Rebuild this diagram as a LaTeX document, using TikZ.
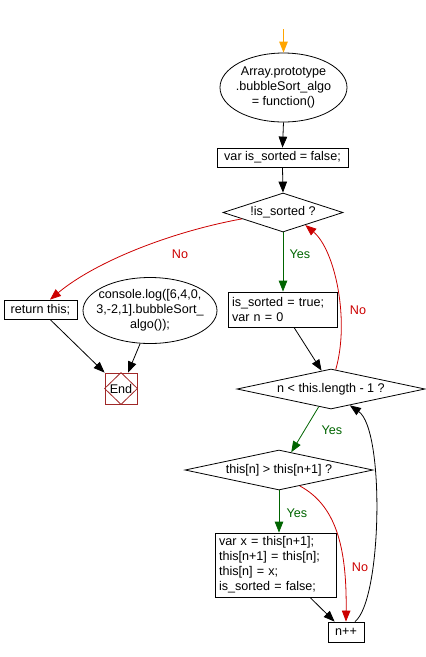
\documentclass[tikz,border=0pt]{standalone}
\usepackage{fontspec}
\setmainfont{Liberation Sans}
\usetikzlibrary{shapes.geometric,arrows.meta,calc}
\definecolor{ygreen}{RGB}{0,100,0}
\definecolor{nred}{RGB}{204,0,0}
\definecolor{orng}{RGB}{255,165,0}
\definecolor{endred}{RGB}{160,40,40}
\begin{document}
\begin{tikzpicture}[x=1pt,y=-1pt,
  font=\fontsize{12.6}{15}\selectfont,
  every path/.style={line width=0.8pt},
  arr/.style={-{Triangle[length=11pt,width=8.5pt]}},
  box/.style={draw, rectangle, inner sep=0pt, line width=0.8pt},
  lbox/.style={draw, rectangle, inner xsep=4pt, inner ysep=0pt, align=left, line width=0.8pt},
  ell/.style={draw, ellipse, inner xsep=-20pt, inner ysep=-12pt, align=center, line width=0.8pt},
  dia/.style={draw, diamond, inner sep=0pt, aspect=4, line width=0.8pt},
  ylab/.style={text=ygreen},
  nlab/.style={text=nred}]
\useasboundingbox (0,0) rectangle (426,657);
% nodes
\coordinate (s) at (283.5,29);
\node[ell, minimum width=127pt, minimum height=69pt] (e1) at (283.5,87.5)
  {Array.prototype\\.bubbleSort\_algo\\= function()};
\node[box, minimum width=131pt, minimum height=19pt] (b1) at (282.5,157.5) {var is\_sorted = false;};
\node[dia, minimum width=120pt, minimum height=39pt] (d1) at (283,212.5) {!is\_sorted ?};
\node[lbox, text width=101pt, minimum height=35pt] (b2) at (282.5,309.5) {is\_sorted = true;\\var n = 0};
\node[dia, minimum width=188pt, minimum height=40pt] (d2) at (331,389) {n < this.length - 1 ?};
\node[dia, minimum width=188pt, minimum height=40pt] (d3) at (279,470) {this[n] > this[n+1] ?};
\node[lbox, text width=113pt, minimum height=64pt] (b4) at (275.5,565)
  {var x = this[n+1];\\this[n+1] = this[n];\\this[n] = x;\\is\_sorted = false;};
\node[box, minimum width=36pt, minimum height=20pt] (np) at (346,632) {n++};
\node[box, minimum width=73pt, minimum height=19pt] (rt) at (40.5,309.5) {return this;};
\node[ell, minimum width=134pt, minimum height=66pt] (e2) at (150,310.5)
  {console.log([6,4,0,\\3,-2,1].bubbleSort\_\\algo());};
\node[draw=endred, rectangle, minimum width=32pt, minimum height=31pt, inner sep=0pt] (en) at (121,388.5) {};
\draw[endred] (en.north) -- (en.east) -- (en.south) -- (en.west) -- cycle;
\node (ent) at (en.center) {End};
% labels
\node[ylab] (y1) at (300,254) {Yes};
\node[nlab] (n1) at (180,254) {No};
\node[nlab] (n2) at (358,310) {No};
\node[ylab] (y2) at (332,430) {Yes};
\node[ylab] (y3) at (297,513) {Yes};
\node[nlab] (n3) at (360,567) {No};
% connectors
\draw[arr, orng] (s) -- (e1.north);
\draw[arr] (e1.south) -- (b1.north);
\draw[arr] (b1.south) -- (d1.north);
\draw[arr, ygreen] (d1.south) -- (d1.south |- b2.north);
\draw[arr, nred] ($(d1.west)!0.32!(d1.south)$) .. controls (170,232) and (95,262) .. (rt.north -| 50,0);
\draw[arr] ($(b2.south)+(11.5,0)$) -- ($(d2.north)!0.1!(d2.west)$);
\draw[arr, nred] ($(d2.north)!0.05!(d2.east)$) .. controls (350,320) and (335,250) .. ($(d1.south)!0.37!(d1.east)$);
\draw[arr, ygreen] ($(d2.south)!0.13!(d2.west)$) -- ($(d3.north)!0.13!(d3.east)$);
\draw[arr, ygreen] (d3.south) -- (d3.south |- b4.north);
\draw[arr, nred] ($(d3.south)!0.22!(d3.east)$) .. controls (335,505) and (347,545) .. (np.north);
\draw[arr] ($(b4.south)+(34.5,0)$) -- ($(np.north west)+(7,0)$);
\draw[arr] ($(np.north)+(9,0)$) .. controls (382,600) and (385,430) .. ($(d2.south)!0.2!(d2.east)$);
\draw[arr] (rt.south -| 50,0) -- (en.north west);
\draw[arr] ($(e2.south)+(-10,0)$) -- ($(en.north)+(7,0)$);
\end{tikzpicture}
\end{document}
